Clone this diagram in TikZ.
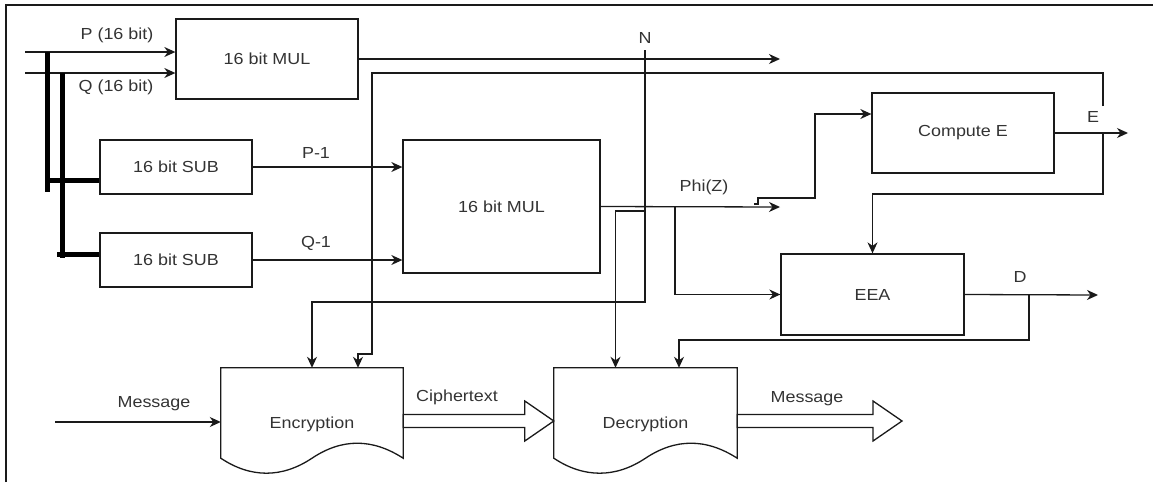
\documentclass[tikz,border=0pt]{standalone}
\usepackage{fontspec}
\setmainfont{Liberation Sans}[FakeStretch=1.12]
\usetikzlibrary{arrows.meta,calc}
\definecolor{ln}{HTML}{1A1A1A}
\definecolor{txt}{HTML}{333333}
\begin{document}
\begin{tikzpicture}[x=1pt,y=-1pt,
  every node/.style={font=\fontsize{16}{19}\selectfont, text=txt},
  box/.style={draw=ln, line width=1.3pt, inner sep=0pt},
  wire/.style={draw=ln, line width=1.3pt},
  arr/.style={wire, -{Stealth[length=11pt,width=10pt,inset=3.5pt]}},
  bus/.style={draw=black, line width=5pt},
  lbl/.style={inner sep=1pt},
  docbox/.style={minimum width=182pt, minimum height=90pt, inner sep=0pt, text height=30pt, text depth=0pt},
  barrow/.style={draw=ln, line width=1.3pt, fill=white, line join=miter}
]
\useasboundingbox (0,0) rectangle (1153,482);
% frame
\draw[draw=ln, line width=1.3pt] (6,482) -- (6,5) -- (1153,5);

% blocks
\node[box, minimum width=182pt, minimum height=80pt] (mul1) at (267,59) {16 bit MUL};
\node[box, minimum width=152pt, minimum height=54pt] (sub1) at (176,167) {16 bit SUB};
\node[box, minimum width=152pt, minimum height=54pt] (sub2) at (176,260) {16 bit SUB};
\node[box, minimum width=197pt, minimum height=133pt] (mul2) at (501.5,206.5) {16 bit MUL};
\node[box, minimum width=182pt, minimum height=80pt] (compE) at (963,133) {Compute E};
\node[box, minimum width=183pt, minimum height=81pt] (eea) at (872.5,294.5) {EEA};
\node[docbox] (enc) at (312,413) {Encryption};
\node[docbox, minimum width=183pt] (dec) at (645.5,413) {Decryption};

% document outlines
\draw[wire, line join=miter] (enc.south west) -- (enc.north west) -- (enc.north east) -- (enc.south east)
  .. controls +(-31,-20) and +(30,-20) .. (enc.south)
  .. controls +(-30,20) and +(30,20) .. (enc.south west) -- cycle;
\draw[wire, line join=miter] (dec.south west) -- (dec.north west) -- (dec.north east) -- (dec.south east)
  .. controls +(-31,-20) and +(30,-20) .. (dec.south)
  .. controls +(-30,20) and +(30,20) .. (dec.south west) -- cycle;

% labels
\node[lbl] (lp) at (117,35) {P (16 bit)};
\node[lbl] (lq) at (116,87) {Q (16 bit)};
\node[lbl] (lp1) at (316,153) {P-1};
\node[lbl] (lq1) at (316,243) {Q-1};
\node[lbl] (ln) at (645,38) {N};
\node[lbl] (lphi) at (704,187) {Phi(Z)};
\node[lbl] (le) at (1093,117) {E};
\node[lbl] (ld) at (1020,277) {D};
\node[lbl] (lc) at (457,397) {Ciphertext};
\node[lbl] (lm2) at (807,399) {Message};
\node[lbl] (lm1) at (154,404) {Message};

% coordinates
\coordinate (pin) at (25,52);
\coordinate (qin) at (25,73);
\coordinate (bA) at (47,52);
\coordinate (bB) at (47,192);
\coordinate (bC) at (62,73);
\coordinate (bD) at (62,258);
\coordinate (b1) at (47,180);
\coordinate (b2) at (57,254);
\coordinate (nout) at (780,59);
\coordinate (ntop) at (645,50);
\coordinate (nA) at (645,302);
\coordinate (nB) at (645,211);
\coordinate (encIn2) at ($(enc.north)+(46,0)$);
\coordinate (decIn1) at ($(dec.north)+(-30,0)$);
\coordinate (decIn2) at ($(dec.north)+(33.5,0)$);
\coordinate (eo) at (1103,133);
\coordinate (etop) at (1103,106);
\coordinate (eA) at (1103,73);
\coordinate (eB) at (372,354);
\coordinate (eC) at (1103,194);
\coordinate (eout) at (1128,133);
\coordinate (phiout) at (780,207);
\coordinate (pB) at (675,207);
\coordinate (pc0) at (754,204);
\coordinate (pc1) at (758,204);
\coordinate (pc2) at (758,198);
\coordinate (pc3) at (815,198);
\coordinate (pc4) at (815,114);
\coordinate (dout) at (1098,295);
\coordinate (dA) at (1029,295);
\coordinate (dB) at (1029,340);
\coordinate (min) at (55,422);

% inputs and bus
\draw[arr] (pin) -- (pin -| mul1.west);
\draw[arr] (qin) -- (qin -| mul1.west);
\draw[bus] (bA) -- (bB);
\draw[bus] (bC) -- (bD);
\draw[bus] (b1) -- (b1 -| sub1.west);
\draw[bus] (b2) -- (b2 -| sub2.west);

% connections
\draw[arr] (sub1.east) -- (sub1.east -| mul2.west);
\draw[arr] (sub2.east) -- (sub2.east -| mul2.west);
\draw[arr] (mul1.east) -- (nout);
\draw[arr] (ntop) -- (nA) -- (nA -| enc.north) -- (enc.north);
\draw[arr] (nB) -- (nB -| decIn1) -- (decIn1);
\draw[arr] (etop) -- (eA) -- (eA -| eB) -- (eB) -- (eB -| encIn2) -- (encIn2);
\draw[arr] (compE.east) -- (eout);
\draw[arr] (eo) -- (eC) -- (eC -| eea.north) -- (eea.north);
\draw[arr] (mul2.east) -- (phiout);
\draw[arr] (pB) -- (pB |- eea.west) -- (eea.west);
\draw[arr] (pc0) -- (pc1) -- (pc2) -- (pc3) -- (pc4) -- (pc4 -| compE.west);
\draw[arr] (eea.east) -- (dout);
\draw[arr] (dA) -- (dB) -- (dB -| decIn2) -- (decIn2);
\draw[arr] (min) -- (min -| enc.west);

% block arrows
\coordinate (ct0) at ($(enc.east)+(0,8)$);
\coordinate (ct1) at ($(dec.west)+(0,8)$);
\draw[barrow] ($(ct0)+(0,-6.5)$) -- ($(ct1)+(-29,-6.5)$) -- ($(ct1)+(-29,-20)$) -- (ct1)
  -- ($(ct1)+(-29,20)$) -- ($(ct1)+(-29,6.5)$) -- ($(ct0)+(0,6.5)$) -- cycle;
\coordinate (mt0) at ($(dec.east)+(0,8)$);
\coordinate (mt1) at (902,421);
\draw[barrow] ($(mt0)+(0,-6.5)$) -- ($(mt1)+(-29,-6.5)$) -- ($(mt1)+(-29,-20)$) -- (mt1)
  -- ($(mt1)+(-29,20)$) -- ($(mt1)+(-29,6.5)$) -- ($(mt0)+(0,6.5)$) -- cycle;
\end{tikzpicture}
\end{document}
